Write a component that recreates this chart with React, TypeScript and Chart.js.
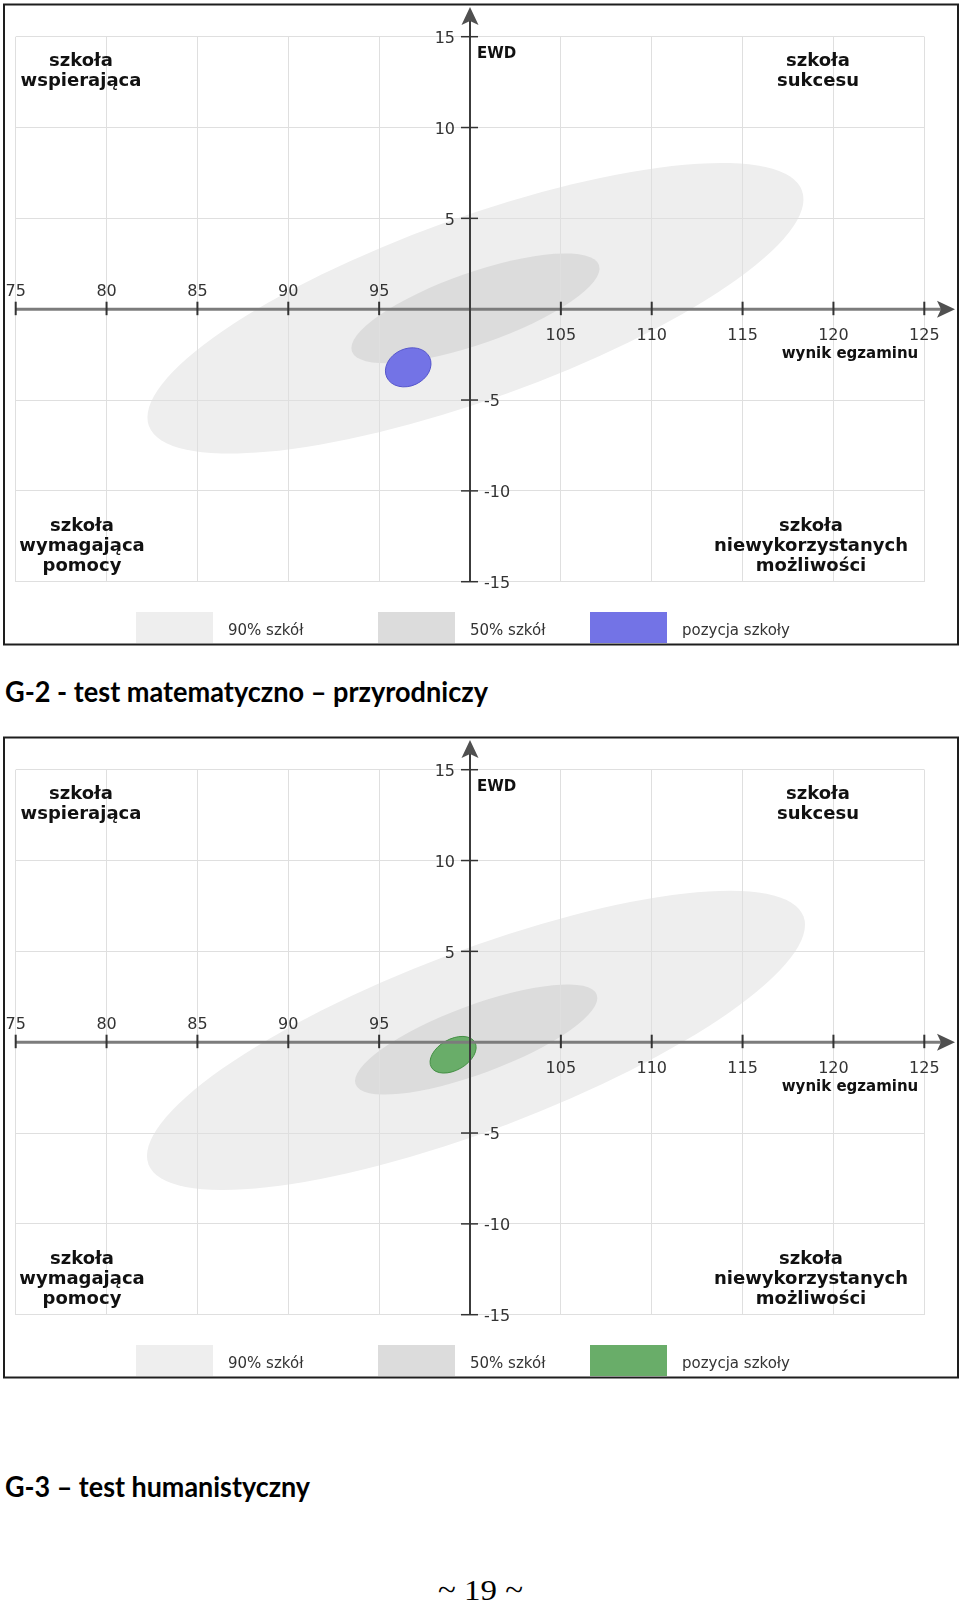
import React, { useEffect, useLayoutEffect, useRef } from 'react';
import { Chart, registerables } from 'chart.js';

Chart.register(...registerables);

// ---------- data ----------
const xTickValues = [75, 80, 85, 90, 95, 105, 110, 115, 120, 125];
const yTickValues = [15, 10, 5, -5, -10, -15];
const seriesLabels = ['90% szkół', '50% szkół', 'pozycja szkoły'];
const quadrantTL = ['szkoła', 'wspierająca'];
const quadrantTR = ['szkoła', 'sukcesu'];
const quadrantBL = ['szkoła', 'wymagająca', 'pomocy'];
const quadrantBR = ['szkoła', 'niewykorzystanych', 'możliwości'];
const yAxisTitle = 'EWD';
const xAxisTitle = 'wynik egzaminu';

// chart above (G-1): ellipses [90%, 50%, school]
const g1CenterX = [100.3, 100.3, 96.6];
const g1CenterY = [0.05, 0.05, -3.2];
const g1SemiMajor = [19.1, 7.2, 1.3];
const g1SemiMinor = [5.0, 1.97, 1.02];
const g1AngleDeg = [19.8, 19.3, 25];

// chart G-2
const g2CenterX = [100.33, 100.34, 99.07];
const g2CenterY = [0.1, 0.15, -0.69];
const g2SemiMajor = [19.27, 7.08, 1.38];
const g2SemiMinor = [4.93, 1.88, 0.85];
const g2AngleDeg = [20.75, 20.4, 30];

const fills1 = ['#eeeeee', '#dcdcdc', '#7373e6'];
const borders1 = ['#eeeeee', '#dcdcdc', '#5656cc'];
const fills2 = ['#eeeeee', '#dcdcdc', '#69ad69'];
const borders2 = ['#eeeeee', '#dcdcdc', '#438f43'];

const title2 = 'G-2 - test matematyczno – przyrodniczy';
const title3 = 'G-3 – test humanistyczny';
const pageNumber = '~ 19 ~';

const FONT = '"DejaVu Sans", sans-serif';

function traceEllipse(ctx: CanvasRenderingContext2D, chart: any, dsIndex: number) {
  const ds: any = chart.data.datasets[dsIndex];
  const meta = chart.getDatasetMeta(dsIndex);
  const el: any = meta.data[0];
  if (!el) return false;
  const xs = chart.scales.x;
  const ys = chart.scales.y;
  const p = ds.data[0];
  const kx = xs.getPixelForValue(p.x + 1) - xs.getPixelForValue(p.x);
  const ky = ys.getPixelForValue(p.y + 1) - ys.getPixelForValue(p.y);
  ctx.save();
  ctx.translate(el.x, el.y);
  ctx.scale(kx, ky);
  ctx.rotate((ds.angleDeg * Math.PI) / 180);
  ctx.beginPath();
  ctx.ellipse(0, 0, ds.semiMajor, ds.semiMinor, 0, 0, Math.PI * 2);
  ctx.restore();
  return true;
}

function drawEllipses(chart: any, layer: string) {
  const ctx: CanvasRenderingContext2D = chart.ctx;
  chart.data.datasets.forEach((ds: any, i: number) => {
    if (ds.layer !== layer) return;
    if (!traceEllipse(ctx, chart, i)) return;
    ctx.fillStyle = ds.backgroundColor;
    ctx.fill();
    if (ds.drawBorder) {
      ctx.strokeStyle = ds.borderColor;
      ctx.lineWidth = 1;
      ctx.stroke();
    }
  });
}

function drawLines(ctx: CanvasRenderingContext2D, lines: string[], x: number, y: number, lh: number) {
  lines.forEach((t, i) => ctx.fillText(t, x, y + i * lh));
}

const ewdPlugin = {
  id: 'ewdPlugin',
  beforeDraw(chart: any) {
    drawEllipses(chart, 'under');
  },
  afterDatasetsDraw(chart: any) {
    drawEllipses(chart, 'over');
  },
  afterDraw(chart: any) {
    const ctx: CanvasRenderingContext2D = chart.ctx;
    const xs = chart.scales.x;
    const ys = chart.scales.y;
    const x0 = xs.getPixelForValue(100);
    const y0 = ys.getPixelForValue(0);
    const xl = xs.getPixelForValue(75);
    const yb = ys.getPixelForValue(-15);
    ctx.save();

    // x axis
    ctx.strokeStyle = '#7c7c7c';
    ctx.lineWidth = 3;
    ctx.beginPath();
    ctx.moveTo(xl, y0);
    ctx.lineTo(944, y0);
    ctx.stroke();
    ctx.fillStyle = '#505050';
    ctx.beginPath();
    ctx.moveTo(955, y0);
    ctx.lineTo(937, y0 - 8.5);
    ctx.lineTo(941, y0);
    ctx.lineTo(937, y0 + 8.5);
    ctx.closePath();
    ctx.fill();

    // y axis
    ctx.strokeStyle = '#3c3c3c';
    ctx.lineWidth = 2;
    ctx.beginPath();
    ctx.moveTo(x0, yb);
    ctx.lineTo(x0, 18);
    ctx.stroke();
    ctx.fillStyle = '#505050';
    ctx.beginPath();
    ctx.moveTo(x0, 7);
    ctx.lineTo(x0 - 8.5, 25);
    ctx.lineTo(x0, 21);
    ctx.lineTo(x0 + 8.5, 25);
    ctx.closePath();
    ctx.fill();

    // ticks
    ctx.strokeStyle = '#333';
    ctx.lineWidth = 2;
    xTickValues.forEach((v) => {
      const px = xs.getPixelForValue(v);
      ctx.beginPath();
      ctx.moveTo(px, y0 - 7.5);
      ctx.lineTo(px, y0 + 6);
      ctx.stroke();
    });
    ctx.lineWidth = 1.5;
    yTickValues.forEach((v) => {
      const py = ys.getPixelForValue(v);
      ctx.beginPath();
      ctx.moveTo(x0 - 9, py);
      ctx.lineTo(x0 + 8, py);
      ctx.stroke();
    });

    // tick labels
    ctx.fillStyle = '#333';
    ctx.font = `16px ${FONT}`;
    ctx.textBaseline = 'alphabetic';
    ctx.textAlign = 'center';
    xTickValues.forEach((v) => {
      const px = xs.getPixelForValue(v);
      ctx.fillText(String(v), px, v < 100 ? y0 - 12.8 : y0 + 30.7);
    });
    yTickValues.forEach((v) => {
      const py = ys.getPixelForValue(v);
      if (v > 0) {
        ctx.textAlign = 'right';
        ctx.fillText(String(v), x0 - 15, py + 6.5);
      } else {
        ctx.textAlign = 'left';
        ctx.fillText(String(v), x0 + 14, py + 6.3);
      }
    });

    // axis titles
    ctx.fillStyle = '#111';
    ctx.font = `bold 15px ${FONT}`;
    ctx.textAlign = 'left';
    ctx.fillText(yAxisTitle, x0 + 7, ys.getPixelForValue(15) + 21.6);
    ctx.textAlign = 'right';
    ctx.fillText(xAxisTitle, xs.getPixelForValue(125) - 6, y0 + 49);

    // quadrant labels
    ctx.font = `bold 18px ${FONT}`;
    ctx.textAlign = 'center';
    drawLines(ctx, quadrantTL, 81, 66, 20);
    drawLines(ctx, quadrantTR, 818, 66, 20);
    drawLines(ctx, quadrantBL, 82, 530.5, 20);
    drawLines(ctx, quadrantBR, 811, 530.5, 20);

    // legend
    const boxX = [136, 378, 590];
    const textX = [228, 470, 682];
    chart.data.datasets.forEach((ds: any, i: number) => {
      ctx.fillStyle = ds.backgroundColor;
      ctx.fillRect(boxX[i], 612, 77, 31);
      ctx.fillStyle = '#333';
      ctx.font = `15px ${FONT}`;
      ctx.textAlign = 'left';
      ctx.fillText(ds.label, textX[i], 634.5);
    });

    // frame
    ctx.strokeStyle = '#1e1e1e';
    ctx.lineWidth = 2;
    ctx.strokeRect(4, 4.5, 954, 640);
    ctx.restore();
  },
};

type ChartProps = {
  cx: number[];
  cy: number[];
  a: number[];
  b: number[];
  ang: number[];
  fills: string[];
  borders: string[];
};

function EwdChart({ cx, cy, a, b, ang, fills, borders }: ChartProps) {
  const ref = useRef<HTMLCanvasElement>(null);
  useEffect(() => {
    if (!ref.current) return;
    const datasets: any[] = seriesLabels.map((label, i) => ({
      label,
      data: [{ x: cx[i], y: cy[i] }],
      pointRadius: 0,
      pointHoverRadius: 0,
      backgroundColor: fills[i],
      borderColor: borders[i],
      semiMajor: a[i],
      semiMinor: b[i],
      angleDeg: ang[i],
      layer: i < 2 ? 'under' : 'over',
      drawBorder: i === 2,
    }));
    const gridOpts = { color: '#dfdfdf', lineWidth: 1, drawTicks: false };
    const chart = new Chart(ref.current, {
      type: 'scatter',
      data: { datasets },
      options: {
        responsive: false,
        animation: false,
        devicePixelRatio: 1,
        events: [],
        layout: { padding: { left: 15.7, right: 35.7, top: 36.7, bottom: 68.3 } },
        plugins: { legend: { display: false }, tooltip: { enabled: false } },
        scales: {
          x: {
            type: 'linear',
            min: 75,
            max: 125,
            ticks: { stepSize: 5, display: false },
            grid: gridOpts,
            border: { display: false },
          },
          y: {
            type: 'linear',
            min: -15,
            max: 15,
            ticks: { stepSize: 5, display: false },
            grid: gridOpts,
            border: { display: false },
          },
        },
      } as any,
      plugins: [ewdPlugin],
    });
    return () => chart.destroy();
  }, []);
  return <canvas ref={ref} width={960} height={650} style={{ display: 'block', width: 960, height: 650 }} />;
}

function FitText({ text, left, top, width, style }: { text: string; left: number; top: number; width: number; style: React.CSSProperties }) {
  const ref = useRef<HTMLDivElement>(null);
  useLayoutEffect(() => {
    const el = ref.current;
    if (!el) return;
    el.style.transform = 'none';
    const w = el.getBoundingClientRect().width;
    if (w > 0) el.style.transform = `scaleX(${width / w})`;
  }, []);
  return (
    <div
      ref={ref}
      style={{
        position: 'absolute',
        left,
        top,
        whiteSpace: 'nowrap',
        display: 'inline-block',
        transformOrigin: 'left top',
        lineHeight: 1,
        ...style,
      }}
    >
      {text}
    </div>
  );
}

export default function App() {
  const titleStyle: React.CSSProperties = { fontFamily: 'Lato, "Open Sans", sans-serif', fontWeight: 700, fontSize: 28.5, color: '#000' };
  return (
    <div style={{ position: 'absolute', left: 0, top: 0, width: 960, height: 1604, background: '#fff', overflow: 'hidden' }}>
      <div style={{ position: 'absolute', left: 0, top: 0 }}>
        <EwdChart cx={g1CenterX} cy={g1CenterY} a={g1SemiMajor} b={g1SemiMinor} ang={g1AngleDeg} fills={fills1} borders={borders1} />
      </div>
      <FitText text={title2} left={5} top={677} width={483} style={titleStyle} />
      <div style={{ position: 'absolute', left: 0, top: 733 }}>
        <EwdChart cx={g2CenterX} cy={g2CenterY} a={g2SemiMajor} b={g2SemiMinor} ang={g2AngleDeg} fills={fills2} borders={borders2} />
      </div>
      <FitText text={title3} left={5} top={1472} width={305} style={titleStyle} />
      <FitText
        text={pageNumber}
        left={438}
        top={1575}
        width={85}
        style={{ fontFamily: '"Liberation Serif", serif', fontSize: 30, color: '#000' }}
      />
    </div>
  );
}
